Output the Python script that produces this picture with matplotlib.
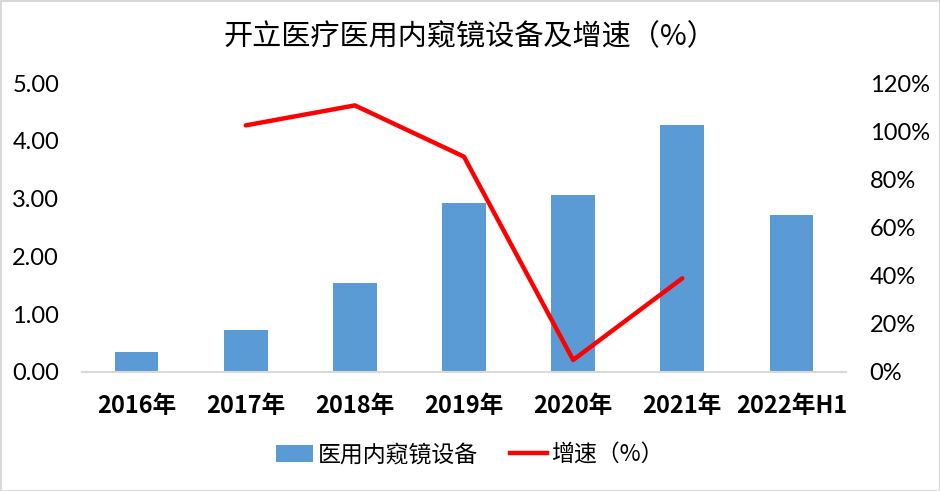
import numpy as np
import matplotlib
matplotlib.use("Agg")
import matplotlib.pyplot as plt
from matplotlib.ticker import FuncFormatter
from matplotlib.lines import Line2D
from matplotlib.patches import Patch

plt.rcParams["font.family"] = ["Lato", "Noto Sans CJK SC", "DejaVu Sans"]

categories = ["2016年", "2017年", "2018年", "2019年", "2020年", "2021年", "2022年H1"]
equipment = [0.35, 0.73, 1.54, 2.92, 3.06, 4.27, 2.72]
growth_years = ["2017年", "2018年", "2019年", "2020年", "2021年"]
growth = [102.4, 110.7, 89.4, 5.0, 38.9]

BAR_COLOR = "#5b9bd5"
LINE_COLOR = "#ff0000"
GRID_GRAY = "#d9d9d9"

fig = plt.figure(figsize=(9.4, 4.91), dpi=100)
fig.patch.set_edgecolor(GRID_GRAY)
fig.patch.set_linewidth(2)

ax = fig.add_axes([82 / 940, 119 / 491, 764 / 940, 289 / 491])
x = np.arange(len(categories))
ax.bar(x, equipment, width=0.4, color=BAR_COLOR, zorder=2)
ax.set_xlim(-0.5, len(categories) - 0.5)
ax.set_ylim(0, 5)
ax.set_yticks(np.arange(0, 5.01, 1))
ax.yaxis.set_major_formatter(FuncFormatter(lambda v, p: f"{v:.2f}"))
ax.set_xticks(x)
ax.set_xticklabels(categories, fontweight="bold",
                   family=["Liberation Sans Narrow", "Noto Sans CJK SC"], fontsize=17)
ax.tick_params(axis="both", length=0)
ax.tick_params(axis="y", labelsize=17, pad=16.5, labelcolor="#000000")
ax.tick_params(axis="x", pad=16)
for s in ["top", "left", "right"]:
    ax.spines[s].set_visible(False)
ax.spines["bottom"].set_color(GRID_GRAY)
ax.spines["bottom"].set_linewidth(1.5)

ax2 = ax.twinx()
gx = [categories.index(c) for c in growth_years]
ax2.plot(gx, growth, color=LINE_COLOR, linewidth=3.2, solid_capstyle="round", zorder=3)
ax2.set_ylim(0, 120)
ax2.set_yticks(np.arange(0, 121, 20))
ax2.yaxis.set_major_formatter(FuncFormatter(lambda v, p: f"{v:.0f}%"))
ax2.tick_params(axis="y", length=0, labelsize=17, pad=17)
for s in ["top", "left", "right", "bottom"]:
    ax2.spines[s].set_visible(False)

fig.text(0.5, 1 - 37 / 491, "开立医疗医用内窥镜设备及增速（%）", ha="center", va="center",
         fontsize=21, family=["Noto Sans CJK SC"])

handles = [Patch(facecolor=BAR_COLOR, edgecolor="none"),
           Line2D([0], [0], color=LINE_COLOR, linewidth=3.2)]
labels = ["医用内窥镜设备", "增速（%）"]
fig.legend(handles, labels, loc="center", bbox_to_anchor=(0.5, 1 - 455 / 491), ncol=2,
           frameon=False, prop={"family": ["Noto Sans CJK SC"], "size": 16.5},
           handlelength=1.6, handletextpad=0.2, columnspacing=1.4)

fig.savefig("out.png", dpi=100)
